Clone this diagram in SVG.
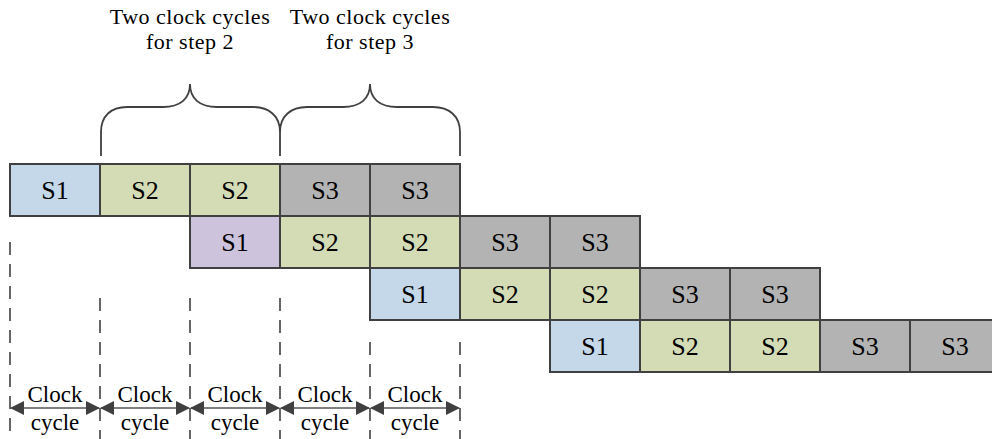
<svg xmlns="http://www.w3.org/2000/svg" width="992" height="439" viewBox="0 0 992 439">
<style>
  .box { stroke: #404040; stroke-width: 2; }
  .s1 { fill: #c5d8ea; }
  .s1p { fill: #cdc3dc; }
  .s2 { fill: #d4dcb6; }
  .s3 { fill: #b3b3b3; }
  text { font-family: 'Liberation Serif', 'Times New Roman', serif; fill: #000; text-anchor: middle; }
  .lbl { font-size: 26px; }
  .title { font-size: 22px; letter-spacing: 0.5px; }
  .clk { font-size: 23px; }
  .dash { stroke: #404040; stroke-width: 1.6; stroke-dasharray: 13 9; fill: none; }
  .brace { stroke: #404040; stroke-width: 1.8; fill: none; }
  .arrow { stroke: #7f7f7f; stroke-width: 2; marker-start: url(#ah); marker-end: url(#ah); }
</style>
<defs>
  <marker id="ah" viewBox="0 0 14 14" refX="13" refY="7" markerWidth="14" markerHeight="14" markerUnits="userSpaceOnUse" orient="auto-start-reverse">
    <path d="M0,0 L14,7 L0,14 Z" fill="#404040"/>
  </marker>
</defs>
<rect width="992" height="439" fill="#ffffff"/>

<g id="titles">
  <text class="title" x="190" y="24">Two clock cycles</text>
  <text class="title" x="190" y="49">for step 2</text>
  <text class="title" x="370" y="24">Two clock cycles</text>
  <text class="title" x="370" y="49">for step 3</text>
</g>

<g id="braces">
  <path class="brace" d="M101,156 L101,132 C101,116 111,107 127,107 L163,107 C180,107 190,99 190,84 C190,99 200,107 217,107 L253,107 C269,107 280,116 280,132 L280,156"/>
  <path class="brace" d="M280,132 C280,116 291,107 307,107 L343,107 C360,107 370,99 370,84 C370,99 380,107 397,107 L433,107 C449,107 460,116 460,132 L460,156"/>
</g>

<g id="connectors">
  <line class="dash" x1="10" y1="242" x2="10" y2="439"/>
  <line class="dash" x1="100" y1="298" x2="100" y2="439"/>
  <line class="dash" x1="190" y1="298" x2="190" y2="439"/>
  <line class="dash" x1="280" y1="298" x2="280" y2="439"/>
  <line class="dash" x1="370" y1="342" x2="370" y2="439"/>
  <line class="dash" x1="460" y1="342" x2="460" y2="439"/>
  <line class="arrow" x1="11" y1="408" x2="99" y2="408"/>
  <line class="arrow" x1="101" y1="408" x2="189" y2="408"/>
  <line class="arrow" x1="191" y1="408" x2="279" y2="408"/>
  <line class="arrow" x1="281" y1="408" x2="369" y2="408"/>
  <line class="arrow" x1="371" y1="408" x2="459" y2="408"/>
</g>

<g id="clock-labels">
  <text class="clk" x="55" y="402">Clock</text><text class="clk" x="55" y="430">cycle</text>
  <text class="clk" x="145" y="402">Clock</text><text class="clk" x="145" y="430">cycle</text>
  <text class="clk" x="235" y="402">Clock</text><text class="clk" x="235" y="430">cycle</text>
  <text class="clk" x="325" y="402">Clock</text><text class="clk" x="325" y="430">cycle</text>
  <text class="clk" x="415" y="402">Clock</text><text class="clk" x="415" y="430">cycle</text>
</g>

<g id="row1">
  <g id="r1c1"><rect class="box s1" x="10" y="164" width="90" height="52"/><text class="lbl" x="55" y="199">S1</text></g>
  <g id="r1c2"><rect class="box s2" x="100" y="164" width="90" height="52"/><text class="lbl" x="145" y="199">S2</text></g>
  <g id="r1c3"><rect class="box s2" x="190" y="164" width="90" height="52"/><text class="lbl" x="235" y="199">S2</text></g>
  <g id="r1c4"><rect class="box s3" x="280" y="164" width="90" height="52"/><text class="lbl" x="325" y="199">S3</text></g>
  <g id="r1c5"><rect class="box s3" x="370" y="164" width="90" height="52"/><text class="lbl" x="415" y="199">S3</text></g>
</g>
<g id="row2">
  <g id="r2c1"><rect class="box s1p" x="190" y="216" width="90" height="52"/><text class="lbl" x="235" y="251">S1</text></g>
  <g id="r2c2"><rect class="box s2" x="280" y="216" width="90" height="52"/><text class="lbl" x="325" y="251">S2</text></g>
  <g id="r2c3"><rect class="box s2" x="370" y="216" width="90" height="52"/><text class="lbl" x="415" y="251">S2</text></g>
  <g id="r2c4"><rect class="box s3" x="460" y="216" width="90" height="52"/><text class="lbl" x="505" y="251">S3</text></g>
  <g id="r2c5"><rect class="box s3" x="550" y="216" width="90" height="52"/><text class="lbl" x="595" y="251">S3</text></g>
</g>
<g id="row3">
  <g id="r3c1"><rect class="box s1" x="370" y="268" width="90" height="52"/><text class="lbl" x="415" y="303">S1</text></g>
  <g id="r3c2"><rect class="box s2" x="460" y="268" width="90" height="52"/><text class="lbl" x="505" y="303">S2</text></g>
  <g id="r3c3"><rect class="box s2" x="550" y="268" width="90" height="52"/><text class="lbl" x="595" y="303">S2</text></g>
  <g id="r3c4"><rect class="box s3" x="640" y="268" width="90" height="52"/><text class="lbl" x="685" y="303">S3</text></g>
  <g id="r3c5"><rect class="box s3" x="730" y="268" width="90" height="52"/><text class="lbl" x="775" y="303">S3</text></g>
</g>
<g id="row4">
  <g id="r4c1"><rect class="box s1" x="550" y="320" width="90" height="52"/><text class="lbl" x="595" y="355">S1</text></g>
  <g id="r4c2"><rect class="box s2" x="640" y="320" width="90" height="52"/><text class="lbl" x="685" y="355">S2</text></g>
  <g id="r4c3"><rect class="box s2" x="730" y="320" width="90" height="52"/><text class="lbl" x="775" y="355">S2</text></g>
  <g id="r4c4"><rect class="box s3" x="820" y="320" width="90" height="52"/><text class="lbl" x="865" y="355">S3</text></g>
  <g id="r4c5"><rect class="box s3" x="910" y="320" width="90" height="52"/><text class="lbl" x="955" y="355">S3</text></g>
</g>
</svg>
